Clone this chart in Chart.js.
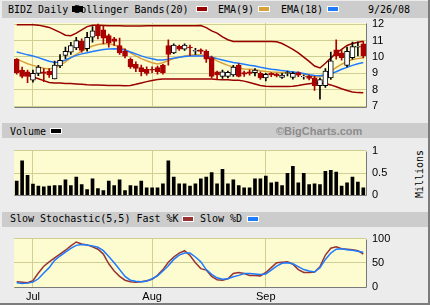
<!DOCTYPE html>
<html>
<head>
<meta charset="utf-8">
<script src="https://cdn.jsdelivr.net/npm/chart.js@4/dist/chart.umd.min.js"></script>
<style>
  body { margin: 0; background: #ffffff; }
  #frame { position: relative; width: 430px; height: 305px; background: #ececec; overflow: hidden;
           font-family: 'DejaVu Sans Mono', monospace; font-size: 10px; }
  .bar { position: absolute; left: 2px; right: 2px; background: #cccccc; }
  .t { position: absolute; white-space: pre; color: #000; line-height: 12px; }
  .sw { position: absolute; width: 10px; height: 4px; border: 1px solid #ffffff; }
  canvas { position: absolute; left: 0; }
</style>
</head>
<body>
<div id="frame">
  <div class="bar" style="top:1px;height:17px"></div>
  <div class="bar" style="top:123px;height:15px"></div>
  <div class="bar" style="top:212px;height:15px"></div>

  <div class="t" style="left:8px;top:4px">BIDZ Daily Bollinger Bands(20)</div>
  <div class="sw" style="left:72px;top:6px;width:9px;background:#000;border-color:#000"></div>
  <div class="sw" style="left:196px;top:6px;background:#990000"></div>
  <div class="t" style="left:218px;top:4px">EMA(9)</div>
  <div class="sw" style="left:258px;top:6px;background:#d9a13b"></div>
  <div class="t" style="left:281px;top:4px">EMA(18)</div>
  <div class="sw" style="left:327px;top:6px;background:#1e7bff"></div>
  <div class="t" style="left:368px;top:4px">9/26/08</div>

  <div class="t" style="left:10px;top:126px">Volume</div>
  <div class="sw" style="left:50px;top:128px;background:#000"></div>
  <div class="t" style="left:276px;top:125px;font-family:'Liberation Sans',sans-serif;font-weight:bold;font-size:11px;color:#8c8c8c">©BigCharts.com</div>
  <div class="t" style="left:396px;top:168px;transform:rotate(-90deg);transform-origin:center">Millions</div>

  <div class="t" style="left:10px;top:213px">Slow Stochastic(5,5) Fast %K</div>
  <div class="sw" style="left:182px;top:216px;background:#993333"></div>
  <div class="t" style="left:200px;top:213px">Slow %D</div>
  <div class="sw" style="left:247px;top:216px;background:#1e7bff"></div>

  <canvas id="priceChart" width="430" height="120" style="top:0"></canvas>
  <canvas id="volumeChart" width="430" height="70" style="top:138px"></canvas>
  <canvas id="stochChart" width="430" height="79" style="top:226px"></canvas>

  <div style="position:absolute;right:0;top:0;width:2px;height:305px;background:#7c7c7c"></div>
  <div style="position:absolute;left:0;bottom:0;width:430px;height:2px;background:#7c7c7c"></div>
</div>

<script>
const dates = ['6/26', '6/27', '6/30',
  '7/1', '7/2', '7/3', '7/7', '7/8', '7/9', '7/10', '7/11', '7/14', '7/15', '7/16', '7/17', '7/18',
  '7/21', '7/22', '7/23', '7/24', '7/25', '7/28', '7/29', '7/30', '7/31',
  '8/1', '8/4', '8/5', '8/6', '8/7', '8/8', '8/11', '8/12', '8/13', '8/14', '8/15', '8/18', '8/19',
  '8/20', '8/21', '8/22', '8/25', '8/26', '8/27', '8/28', '8/29',
  '9/2', '9/3', '9/4', '9/5', '9/8', '9/9', '9/10', '9/11', '9/12', '9/15', '9/16', '9/17', '9/18',
  '9/19', '9/22', '9/23', '9/24', '9/25', '9/26']
const monthNames = { 7: 'Jul', 8: 'Aug', 9: 'Sep' }

const openP = [9.86, 9.20, 9.10, 8.59, 9.00, 9.10, 9.14, 8.66, 9.45, 10.10,
  10.30, 10.55, 10.95, 10.50, 11.20, 11.95, 11.65, 11.30, 11.10, 10.70,
  10.35, 9.85, 9.55, 9.35, 9.25, 9.25, 9.35, 9.50, 10.70, 10.25,
  10.65, 10.47, 10.60, 10.35, 10.43, 10.34, 9.96, 9.10, 8.82, 8.82,
  8.91, 9.49, 9.05, 9.10, 9.05, 9.00, 8.72, 9.00, 8.95, 8.75,
  9.00, 8.75, 9.05, 8.78, 8.82, 8.72, 8.25, 8.25, 8.72, 10.43,
  10.25, 9.49, 9.96, 10.60, 10.80]
const highP = [9.90, 9.39, 9.20, 9.20, 9.49, 9.30, 9.30, 9.75, 10.15, 10.60,
  10.90, 11.20, 11.10, 11.50, 11.85, 12.00, 11.90, 11.40, 11.20, 11.15,
  10.50, 9.95, 9.70, 9.50, 9.40, 9.40, 9.45, 9.55, 11.05, 10.80,
  10.72, 10.80, 10.72, 10.53, 10.50, 10.43, 10.06, 9.14, 9.20, 9.14,
  9.49, 9.60, 9.14, 9.20, 9.30, 9.10, 9.00, 9.05, 9.00, 9.00,
  9.14, 9.10, 9.10, 8.90, 8.90, 8.82, 8.72, 9.30, 10.30, 11.05,
  10.40, 10.60, 10.91, 10.91, 10.95]
const lowP = [8.95, 8.72, 8.43, 8.47, 8.86, 8.50, 8.75, 8.66, 9.35, 9.90,
  10.15, 10.45, 10.30, 10.35, 10.90, 11.10, 10.80, 10.60, 10.70, 10.15,
  9.95, 9.30, 9.10, 8.85, 8.90, 9.05, 8.95, 8.95, 9.50, 10.20,
  10.40, 10.40, 10.10, 10.15, 10.20, 9.67, 8.72, 8.63, 8.70, 8.72,
  8.82, 8.78, 8.82, 8.90, 8.85, 8.63, 8.55, 8.80, 8.78, 8.70,
  8.85, 8.65, 8.80, 8.65, 8.60, 7.96, 7.43, 8.15, 8.63, 9.86,
  9.80, 9.40, 9.86, 10.06, 9.95]
const closeP = [9.05, 8.82, 8.82, 9.00, 9.39, 9.00, 8.91, 9.50, 9.80, 10.35,
  10.70, 11.00, 10.40, 11.20, 11.60, 11.30, 11.15, 10.85, 10.95, 10.25,
  10.05, 9.40, 9.30, 9.10, 9.00, 9.20, 9.10, 9.05, 10.15, 10.72,
  10.47, 10.72, 10.55, 10.40, 10.34, 9.86, 8.82, 8.91, 9.10, 9.06,
  9.39, 8.82, 8.95, 9.00, 9.20, 8.72, 8.95, 8.91, 8.85, 8.90,
  9.05, 9.00, 8.90, 8.82, 8.70, 8.25, 8.63, 9.14, 9.77, 10.06,
  9.96, 10.34, 10.63, 10.65, 10.06]

const bollUpper = [11.97, 11.97, 11.97, 11.96, 11.94, 11.87, 11.80, 11.65, 11.50, 11.33,
  11.30, 11.45, 11.65, 11.85, 11.93, 11.93, 11.92, 11.91, 11.90, 11.90,
  11.89, 11.88, 11.88, 11.89, 11.90, 11.90, 11.90, 11.90, 11.91, 11.91,
  11.91, 11.90, 11.90, 11.91, 11.92, 11.79, 11.59, 11.45, 11.22, 11.05,
  10.95, 10.95, 10.95, 10.95, 10.95, 10.95, 10.95, 10.95, 10.93, 10.82,
  10.65, 10.47, 10.25, 9.99, 9.73, 9.45, 9.33, 9.62, 9.93, 10.25,
  10.47, 10.70, 10.82, 10.90, 10.96]
const bollLower = [9.22, 9.05, 8.90, 8.79, 8.67, 8.56, 8.45, 8.42, 8.41, 8.39,
  8.38, 8.36, 8.34, 8.31, 8.30, 8.29, 8.28, 8.27, 8.26, 8.26,
  8.25, 8.27, 8.34, 8.42, 8.50, 8.57, 8.63, 8.66, 8.66, 8.66,
  8.66, 8.66, 8.66, 8.66, 8.66, 8.66, 8.66, 8.63, 8.62, 8.61,
  8.59, 8.59, 8.53, 8.45, 8.36, 8.27, 8.22, 8.20, 8.20, 8.20,
  8.20, 8.22, 8.26, 8.32, 8.37, 8.41, 8.42, 8.39, 8.30, 8.19,
  8.07, 7.96, 7.87, 7.83, 7.82]
const ema9 = [9.87, 9.73, 9.59, 9.49, 9.39, 9.31, 9.27, 9.33, 9.49, 9.70,
  9.96, 10.16, 10.36, 10.53, 10.67, 10.76, 10.80, 10.82, 10.73, 10.62,
  10.45, 10.25, 10.07, 9.90, 9.77, 9.65, 9.58, 9.65, 9.79, 9.90,
  9.99, 10.06, 10.11, 10.13, 10.12, 10.09, 9.96, 9.76, 9.62, 9.49,
  9.39, 9.31, 9.27, 9.25, 9.22, 9.16, 9.12, 9.09, 9.07, 9.05,
  9.04, 9.02, 9.01, 8.96, 8.87, 8.78, 8.79, 8.93, 9.13, 9.36,
  9.56, 9.73, 9.85, 9.90, 9.95]
const ema18 = [10.30, 10.22, 10.13, 10.06, 9.96, 9.85, 9.74, 9.67, 9.70, 9.82,
  9.96, 10.10, 10.19, 10.26, 10.34, 10.40, 10.46, 10.49, 10.50, 10.49,
  10.42, 10.30, 10.19, 10.07, 9.96, 9.89, 9.82, 9.82, 9.87, 9.93,
  9.98, 10.03, 10.06, 10.06, 10.06, 10.06, 9.99, 9.90, 9.82, 9.74,
  9.67, 9.62, 9.56, 9.50, 9.45, 9.37, 9.31, 9.26, 9.22, 9.17,
  9.13, 9.09, 9.05, 8.99, 8.92, 8.87, 8.86, 8.90, 8.99, 9.10,
  9.25, 9.37, 9.49, 9.59, 9.67]

// millions of shares
const volume = [0.32, 0.77, 0.45, 0.25, 0.21, 0.19, 0.21, 0.22, 0.22, 0.35,
  0.22, 0.41, 0.24, 0.13, 0.37, 0.15, 0.11, 0.32, 0.22, 0.35,
  0.11, 0.22, 0.21, 0.32, 0.17, 0.17, 0.17, 0.26, 0.77, 0.41,
  0.26, 0.26, 0.21, 0.26, 0.37, 0.41, 0.51, 0.26, 0.58, 0.26,
  0.35, 0.22, 0.17, 0.17, 0.37, 0.37, 0.43, 0.28, 0.30, 0.22,
  0.49, 0.65, 0.28, 0.49, 0.24, 0.26, 0.24, 0.54, 0.56, 0.52,
  0.21, 0.28, 0.41, 0.30, 0.17]

const stochK = [11, 10, 9, 13, 29, 43, 52, 60, 68, 76,
  85, 93, 89, 87, 83, 78, 68, 48, 33, 22,
  14, 11, 10, 11, 13, 16, 24, 36, 51, 62,
  70, 75, 65, 50, 38, 35, 22, 15, 14, 17,
  28, 30, 28, 24, 24, 23, 30, 40, 50, 51,
  52, 47, 36, 30, 30, 31, 42, 66, 80, 83,
  79, 78, 77, 75, 68]
const stochD = [9, 7, 8, 10, 17, 29, 40, 55, 64, 72,
  80, 86, 88, 87, 85, 82, 75, 63, 50, 36,
  22, 14, 12, 11, 12, 17, 23, 33, 44, 57,
  66, 70, 70, 62, 52, 36, 26, 19, 16, 17,
  21, 24, 28, 28, 27, 26, 27, 35, 43, 49,
  50, 48, 42, 36, 33, 31, 40, 57, 70, 78,
  79, 77, 76, 74, 72]

const priceTicks = [7, 8, 9, 10, 11, 12]
const volumeTicks = [0, 0.5, 1]
const stochTicks = [0, 50, 100]

const PLOT_BG = '#fdfcd0'
const GRID = '#cfcf93'
const UP_EDGE = '#000000'
const DOWN = '#aa0000'

Chart.defaults.font.family = "'Liberation Sans', sans-serif"
Chart.defaults.font.size = 11
Chart.defaults.color = '#000000'
Chart.defaults.animation = false
Chart.defaults.plugins.legend.display = false
Chart.defaults.plugins.tooltip.enabled = false

// first trading day of each month gets a grid line and a label
const monthStarts = dates.map((d, i) => {
  const m = d.split('/')[0]
  return i > 0 && m !== dates[i - 1].split('/')[0] ? i : -1
}).filter(i => i >= 0)

const plotFrame = {
  id: 'plotFrame',
  beforeDraw (chart) {
    const { ctx, chartArea: a } = chart
    ctx.save()
    ctx.fillStyle = PLOT_BG
    ctx.fillRect(a.left, a.top, a.width, a.height)
    ctx.restore()
  },
  afterDraw (chart) {
    const { ctx, chartArea: a } = chart
    ctx.save()
    ctx.strokeStyle = '#7a7a7a'
    ctx.lineWidth = 1
    ctx.beginPath()
    ctx.moveTo(Math.round(a.left) + 0.5, Math.round(a.bottom) + 0.5)
    ctx.lineTo(Math.round(a.right) + 0.5, Math.round(a.bottom) + 0.5)
    ctx.lineTo(Math.round(a.right) + 0.5, Math.round(a.top) + 0.5)
    ctx.stroke()
    ctx.restore()
  }
}

function xScale (showLabels) {
  return {
    type: 'category',
    offset: true,
    grid: {
      offset: false,
      drawTicks: false,
      color: ctx => monthStarts.includes(ctx.index) ? GRID : 'transparent'
    },
    border: { display: false },
    ticks: {
      display: showLabels,
      autoSkip: false,
      maxRotation: 0,
      minRotation: 0,
      padding: 3,
      callback: (val, i) => monthStarts.includes(i) ? monthNames[+dates[i].split('/')[0]] : ''
    },
    afterFit: s => { s.height = showLabels ? 18 : 0 }
  }
}

function yScale (min, max, tickValues, fmt) {
  return {
    position: 'right',
    min: min,
    max: max,
    grid: { color: GRID, drawTicks: false },
    border: { display: false },
    ticks: { padding: 6, callback: fmt || (v => String(v)) },
    afterBuildTicks: s => { s.ticks = tickValues.map(v => ({ value: v })) },
    afterFit: s => { s.width = 64 }
  }
}

function lineSet (data, color) {
  return {
    type: 'line',
    data: data,
    borderColor: color,
    borderWidth: 1.5,
    pointRadius: 0,
    tension: 0,
    order: 2
  }
}

// candles: a thin bar for the high-low range and a wider one for the open-close body
const isUp = dates.map((d, i) => closeP[i] >= openP[i])
const bodies = dates.map((d, i) => [Math.min(openP[i], closeP[i]), Math.max(openP[i], closeP[i])])
const wicks = dates.map((d, i) => [lowP[i], highP[i]])

new Chart(document.getElementById('priceChart'), {
  type: 'bar',
  data: {
    labels: dates,
    datasets: [
      {
        data: bodies,
        backgroundColor: isUp.map(u => u ? '#ffffff' : DOWN),
        borderColor: isUp.map(u => u ? UP_EDGE : DOWN),
        borderWidth: 1,
        borderSkipped: false,
        barThickness: 5,
        grouped: false,
        order: 0
      },
      {
        data: wicks,
        backgroundColor: isUp.map(u => u ? UP_EDGE : DOWN),
        barThickness: 1,
        grouped: false,
        order: 1
      },
      lineSet(bollUpper, '#990000'),
      lineSet(bollLower, '#990000'),
      lineSet(ema18, '#1e7bff'),
      lineSet(ema9, '#d9a13b')
    ]
  },
  options: {
    responsive: false,
    devicePixelRatio: 1,
    layout: { padding: { left: 14, top: 23, right: 0, bottom: 7 } },
    scales: {
      x: xScale(false),
      y: yScale(6.93, 12.07, priceTicks)
    }
  },
  plugins: [plotFrame]
})

new Chart(document.getElementById('volumeChart'), {
  type: 'bar',
  data: {
    labels: dates,
    datasets: [{
      data: volume,
      backgroundColor: '#000000',
      barThickness: 3
    }]
  },
  options: {
    responsive: false,
    devicePixelRatio: 1,
    layout: { padding: { left: 14, top: 8, right: 0, bottom: 8 } },
    scales: {
      x: xScale(false),
      y: yScale(0, 1, volumeTicks)
    }
  },
  plugins: [plotFrame]
})

new Chart(document.getElementById('stochChart'), {
  type: 'line',
  data: {
    labels: dates,
    datasets: [
      lineSet(stochD, '#1e7bff'),
      lineSet(stochK, '#993333')
    ]
  },
  options: {
    responsive: false,
    devicePixelRatio: 1,
    layout: { padding: { left: 14, top: 7, right: 0, bottom: 0 } },
    scales: {
      x: xScale(true),
      y: yScale(0, 100, stochTicks)
    }
  },
  plugins: [plotFrame]
})
</script>
</body>
</html>
